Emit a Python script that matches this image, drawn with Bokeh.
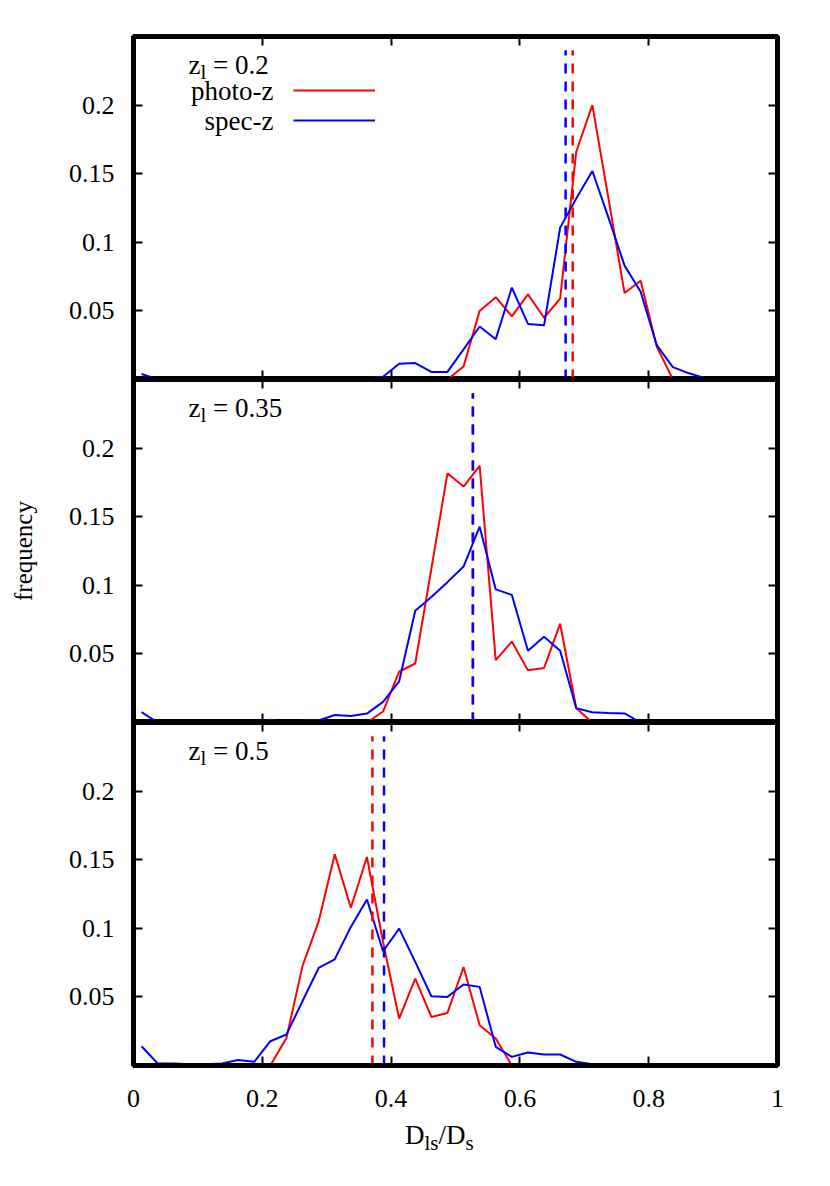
from bokeh.plotting import figure
from bokeh.layouts import column
from bokeh.models import (Label, Legend, LegendItem, FixedTicker, LinearAxis, Range1d, Div)
from bokeh.embed import file_html
from bokeh.resources import INLINE

# ---------------- data ----------------
DLS = [0.0125, 0.0375, 0.0625, 0.0875, 0.1125, 0.1375, 0.1625, 0.1875, 0.2125, 0.2375,
       0.2625, 0.2875, 0.3125, 0.3375, 0.3625, 0.3875, 0.4125, 0.4375, 0.4625, 0.4875,
       0.5125, 0.5375, 0.5625, 0.5875, 0.6125, 0.6375, 0.6625, 0.6875, 0.7125, 0.7375,
       0.7625, 0.7875, 0.8125, 0.8375, 0.8625, 0.8875, 0.9125, 0.9375, 0.9625, 0.9875]

PHOTO_Z020 = [0, 0, 0, 0, 0, 0, 0, 0, 0, 0,
              0, 0, 0, 0, 0, 0, 0, 0, 0, 0,
              0.0095, 0.050, 0.060, 0.046, 0.062, 0.045, 0.059, 0.166, 0.200, 0.132,
              0.063, 0.072, 0.024, 0, 0, 0, 0, 0, 0, 0]
SPEC_Z020 = [0.004, 0, 0, 0, 0, 0, 0, 0, 0, 0,
             0, 0.0005, 0.001, 0.001, 0.001, 0.002, 0.0115, 0.012, 0.0055, 0.0055,
             0.022, 0.0386, 0.0294, 0.067, 0.0405, 0.0395, 0.1107, 0.132, 0.152, 0.118,
             0.083, 0.064, 0.025, 0.009, 0.0045, 0.001, 0, 0, 0, 0]

PHOTO_Z035 = [0, 0, 0, 0, 0, 0, 0, 0, 0, 0,
              0, 0, 0, 0, 0, 0.008, 0.037, 0.043, 0.112, 0.1816,
              0.172, 0.187, 0.0455, 0.059, 0.038, 0.0397, 0.072, 0.0104, 0, 0,
              0, 0, 0, 0, 0, 0, 0, 0, 0, 0]
SPEC_Z035 = [0.0075, 0, 0, 0, 0, 0, 0, 0, 0.002, 0,
             0.0015, 0.0015, 0.0055, 0.0048, 0.0065, 0.015, 0.030, 0.0815, 0.0915, 0.1023,
             0.1137, 0.1427, 0.097, 0.093, 0.0523, 0.0625, 0.0523, 0.0104, 0.0075, 0.007,
             0.0066, 0, 0, 0, 0, 0, 0, 0, 0, 0]

PHOTO_Z050 = [0, 0, 0, 0, 0, 0, 0, 0, 0, 0.020,
              0.0726, 0.105, 0.154, 0.115, 0.152, 0.09, 0.0342, 0.0634, 0.0354, 0.0383,
              0.0718, 0.0294, 0.0197, 0, 0, 0, 0, 0, 0, 0,
              0, 0, 0, 0, 0, 0, 0, 0, 0, 0]
SPEC_Z050 = [0.014, 0.0015, 0.0015, 0.001, 0.001, 0.0015, 0.004, 0.0027, 0.0177, 0.0226,
             0.047, 0.0711, 0.0774, 0.101, 0.121, 0.0833, 0.0998, 0.0755, 0.0505, 0.050,
             0.059, 0.0573, 0.0136, 0.0063, 0.0095, 0.008, 0.008, 0.0027, 0.001, 0,
             0, 0, 0, 0, 0, 0, 0, 0, 0, 0]

# median markers (dashed vertical lines): photo-z, spec-z
MEDIAN_PHOTO = [0.682, 0.527, 0.371]
MEDIAN_SPEC = [0.671, 0.527, 0.389]

LENS_Z = ["0.2", "0.35", "0.5"]
SERIES_NAMES = ["photo-z", "spec-z"]

X_TICKS = [0.0, 0.2, 0.4, 0.6, 0.8, 1.0]
X_TICK_LABELS = ["0", "0.2", "0.4", "0.6", "0.8", "1"]
Y_TICKS = [0.05, 0.1, 0.15, 0.2]
Y_TICK_LABELS = ["0.05", "0.1", "0.15", "0.2"]

# ---------------- style ----------------
FONT = "Liberation Serif"
TICK_SIZE = 26
TEXT_SIZE = 27
SUB_SIZE = 21
YLABEL_SIZE = 25
RED = "#ff0000"
BLUE = "#0000ff"
FRAME_W, FRAME_H = 644, 343
LEFT_B = 133
DASH_TOP = 0.24

CHAR_W = {"z": 0.444, "l": 0.278, " ": 0.25, "=": 0.564, ".": 0.25, "D": 0.722,
          "s": 0.389, "/": 0.278}


def text_width(s, size):
    return sum(CHAR_W.get(c, 0.5) for c in s) * size


def add_rich(p, parts, x0, y0, size, sub_size, sub_drop):
    """parts: list of (text, is_subscript, gap_before_em); x0,y0 in frame px (baseline)."""
    x = x0
    for t, sub, gap in parts:
        sz = sub_size if sub else size
        x += gap * size
        p.add_layout(Label(x=x, y=y0 - (sub_drop if sub else 0), x_units="screen",
                           y_units="screen", text=t, text_font=FONT,
                           text_font_size=f"{sz}px",
                           text_color="black", text_baseline="alphabetic",
                           text_align="left"))
        x += text_width(t, sz)


def style_axis(ax, ticks, labels, show_labels):
    ax.ticker = FixedTicker(ticks=ticks, minor_ticks=[])
    ax.major_tick_in = 9
    ax.major_tick_out = 0
    ax.minor_tick_in = 0
    ax.minor_tick_out = 0
    ax.major_tick_line_width = 2
    ax.major_tick_line_color = "black"
    ax.axis_line_width = 5
    ax.axis_line_color = "black"
    ax.major_label_text_font = FONT
    if show_labels:
        ax.major_label_overrides = {t: l for t, l in zip(ticks, labels)}
        ax.major_label_text_font_size = f"{TICK_SIZE}px"
        ax.major_label_text_color = "black"
    else:
        ax.major_label_overrides = {t: "" for t in ticks}
        ax.major_label_text_font_size = "0px"
        ax.major_label_standoff = 0


def make_panel(idx, photo, spec, top_border, bottom_border, show_x_labels, ylabel=None):
    p = figure(frame_width=FRAME_W, frame_height=FRAME_H,
               x_range=Range1d(0, 1), y_range=Range1d(0, 0.25),
               x_axis_location=None, y_axis_location=None,
               output_backend="svg", toolbar_location=None,
               min_border_left=LEFT_B, min_border_right=22,
               min_border_top=top_border, min_border_bottom=bottom_border,
               background_fill_color="white", border_fill_color="white")
    p.grid.visible = False
    p.outline_line_color = "black"
    p.outline_line_width = 5

    r_photo = p.line(DLS, photo, line_color=RED, line_width=2)
    r_spec = p.line(DLS, spec, line_color=BLUE, line_width=2)
    p.segment(x0=[MEDIAN_PHOTO[idx]], y0=[0], x1=[MEDIAN_PHOTO[idx]], y1=[DASH_TOP],
              line_color=RED, line_width=2.5, line_dash="10 8")
    p.segment(x0=[MEDIAN_SPEC[idx]], y0=[0], x1=[MEDIAN_SPEC[idx]], y1=[DASH_TOP],
              line_color=BLUE, line_width=2.5, line_dash="10 8")

    below = LinearAxis()
    above = LinearAxis()
    left = LinearAxis()
    right = LinearAxis()
    style_axis(below, X_TICKS, X_TICK_LABELS, show_x_labels)
    style_axis(above, X_TICKS, X_TICK_LABELS, False)
    style_axis(left, Y_TICKS, Y_TICK_LABELS, True)
    style_axis(right, Y_TICKS, Y_TICK_LABELS, False)
    if show_x_labels:
        below.major_label_standoff = 24
    left.major_label_standoff = 19
    if ylabel:
        left.axis_label = ylabel
        left.axis_label_text_font = FONT
        left.axis_label_text_font_style = "normal"
        left.axis_label_text_font_size = f"{YLABEL_SIZE}px"
        left.axis_label_text_color = "black"
        left.axis_label_standoff = 29
    p.add_layout(below, "below")
    p.add_layout(above, "above")
    p.add_layout(left, "left")
    p.add_layout(right, "right")

    # panel label z_l = ...
    add_rich(p, [("z", False, 0), ("l", True, 0), ("= " + LENS_Z[idx], False, 0.25)],
             55, 315, TEXT_SIZE, SUB_SIZE, 7)
    return p, r_photo, r_spec


p1, r1p, r1s = make_panel(0, PHOTO_Z020, SPEC_Z020, 36, 0, False)
p2, _, _ = make_panel(1, PHOTO_Z035, SPEC_Z035, 0, 0, False, ylabel="frequency")
p3, _, _ = make_panel(2, PHOTO_Z050, SPEC_Z050, 0, 50, True)

# legend in panel 1: text to the left of the line sample
legend = Legend(items=[LegendItem(label=" ", renderers=[r1p]),
                       LegendItem(label=" ", renderers=[r1s])],
                location=(160, 244), glyph_width=82, glyph_height=30, spacing=0,
                padding=0, margin=0, label_standoff=0, label_width=0, label_height=30,
                label_text_font_size="1px", border_line_alpha=0, background_fill_alpha=0)
p1.add_layout(legend)
for name, yc in zip(SERIES_NAMES, [289, 259]):
    p1.add_layout(Label(x=140, y=yc, x_units="screen", y_units="screen", text=name,
                        text_font=FONT, text_font_size=f"{TEXT_SIZE}px",
                        text_align="right", text_baseline="middle", text_color="black"))

# x axis label D_ls / D_s below the bottom panel
xlabel = Div(text="D<sub style='font-size:21px'>ls</sub>/D<sub style='font-size:21px'>s</sub>",
             width=800, height=60,
             styles={"font-family": "'Liberation Serif', serif", "font-size": "27px",
                     "color": "black", "padding-left": "400px", "line-height": "30px"})

layout = column(p1, p2, p3, xlabel, spacing=0)
open("out.html", "w").write(file_html(layout, INLINE))
